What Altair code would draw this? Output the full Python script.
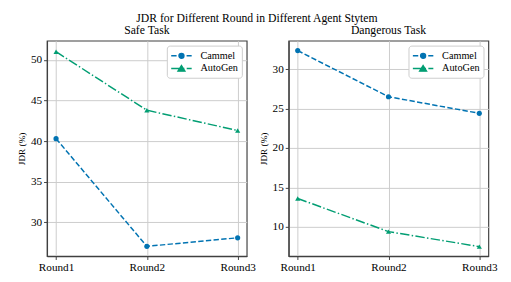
import altair as alt
import pandas as pd

rounds = ["Round1", "Round2", "Round3"]
series = ["Cammel", "AutoGen"]
safe_cammel = [40.3, 27.05, 28.1]
safe_autogen = [51.0, 43.8, 41.3]
danger_cammel = [32.35, 26.5, 24.4]
danger_autogen = [13.6, 9.4, 7.5]
safe_ticks = [30, 35, 40, 45, 50]
danger_ticks = [10, 15, 20, 25, 30]
colors = ["#0173b2", "#029e73"]

FONT = "Liberation Serif"
FRAME = "#404040"

def make_df(cammel, autogen):
    rows = []
    for r, v in zip(rounds, cammel):
        rows.append({"Round": r, "JDR": v, "Series": "Cammel"})
    for r, v in zip(rounds, autogen):
        rows.append({"Round": r, "JDR": v, "Series": "AutoGen"})
    return pd.DataFrame(rows)

# legend symbols: dashed line with marker; unit = 6 px, line drawn from -1 to 2.5
leg_cammel = ("M-1,0H-0.08M0.32,0H1.23M1.63,0H2.5"
              "M1.17,0A0.42,0.42,0,1,1,0.33,0A0.42,0.42,0,1,1,1.17,0Z")
leg_autogen = ("M-1,0H0.6M1.0,0H1.25M1.65,0H2.5"
               "M0.75,-0.5L1.33,0.45L0.17,0.45Z")


def panel(df, title, ydomain, yticks):
    color_scale = alt.Scale(domain=series, range=colors)
    x = alt.X("Round:N", sort=rounds,
              scale=alt.Scale(type="point", domain=rounds, padding=0.1),
              axis=alt.Axis(title=None, labelAngle=0, grid=True))
    y = alt.Y("JDR:Q", scale=alt.Scale(domain=ydomain, nice=False, zero=False),
              axis=alt.Axis(title="JDR (%)", values=yticks, grid=True))
    base = alt.Chart(df).encode(x=x, y=y)
    line = base.mark_line(strokeWidth=1.5).encode(
        color=alt.Color("Series:N", scale=color_scale, legend=None),
        strokeDash=alt.StrokeDash("Series:N",
                                  scale=alt.Scale(domain=series,
                                                  range=[[5.5, 2.4], [9.6, 2.4, 1.5, 2.4]]),
                                  legend=None),
    )
    pts = base.mark_point(filled=True, opacity=1, size=28).encode(
        color=alt.Color("Series:N", scale=color_scale, legend=None),
        shape=alt.Shape("Series:N",
                        scale=alt.Scale(domain=series, range=["circle", "triangle-up"]),
                        legend=None),
    )
    leg = alt.Chart(df).transform_filter("false").mark_point(
        filled=True, opacity=1, fillOpacity=1, strokeOpacity=1, size=144, strokeWidth=1.5
    ).encode(
        x=x, y=y,
        fill=alt.Fill("Series:N", scale=alt.Scale(domain=series, range=colors),
                      legend=alt.Legend(title=None)),
        stroke=alt.Stroke("Series:N", scale=alt.Scale(domain=series, range=colors),
                          legend=alt.Legend(title=None)),
        shape=alt.Shape("Series:N",
                        scale=alt.Scale(domain=series, range=[leg_cammel, leg_autogen]),
                        legend=alt.Legend(
                            title=None, orient="top-right", offset=5,
                            symbolSize=144, symbolStrokeWidth=1.5,
                            fillColor="white", strokeColor="#cccccc",
                            padding=3.5, cornerRadius=3, rowPadding=0, labelOffset=17,
                        )),
    )
    return alt.layer(line, pts, leg).resolve_scale(
        color="independent", shape="independent", fill="independent",
        stroke="independent", strokeDash="independent"
    ).properties(
        width=205, height=221,
        title=alt.TitleParams(title),
    )

left = panel(make_df(safe_cammel, safe_autogen), "Safe Task", [25.85, 52.35], safe_ticks)
right = panel(make_df(danger_cammel, danger_autogen), "Dangerous Task", [6.3, 33.6], danger_ticks)

chart = alt.hconcat(left, right, spacing=43, bounds="flush").properties(
    title=alt.TitleParams("JDR for Different Round in Different Agent Stytem",
                          font=FONT, fontSize=12, fontWeight="normal", color="black",
                          anchor="middle", offset=-1),
    padding={"left": 8, "top": 0, "right": 5, "bottom": 5},
).configure(
    font=FONT,
    style={
        "group-title": {"font": FONT, "fontSize": 12, "fontWeight": "normal", "fill": "black"},
        "guide-label": {"font": FONT, "fill": "black"},
        "guide-title": {"font": FONT, "fill": "black", "fontWeight": "normal"},
    },
).configure_view(
    stroke=FRAME, strokeWidth=1.2,
).configure_axis(
    labelFont=FONT, labelFontSize=11.5, labelColor="black",
    titleFont=FONT, titleFontSize=9.5, titleFontWeight="normal", titleColor="black",
    titlePadding=4, tickColor=FRAME, tickSize=3.5, tickWidth=1,
    domainColor=FRAME, domainWidth=1.2, gridColor="#cccccc", gridWidth=1,
    labelPadding=2,
).configure_legend(
    labelFont=FONT, labelFontSize=10.5, labelColor="black",
).configure_title(
    font=FONT, fontSize=12, fontWeight="normal", color="black", offset=0,
)

chart.save("out.html", embed_options={"renderer": "svg", "actions": False})
